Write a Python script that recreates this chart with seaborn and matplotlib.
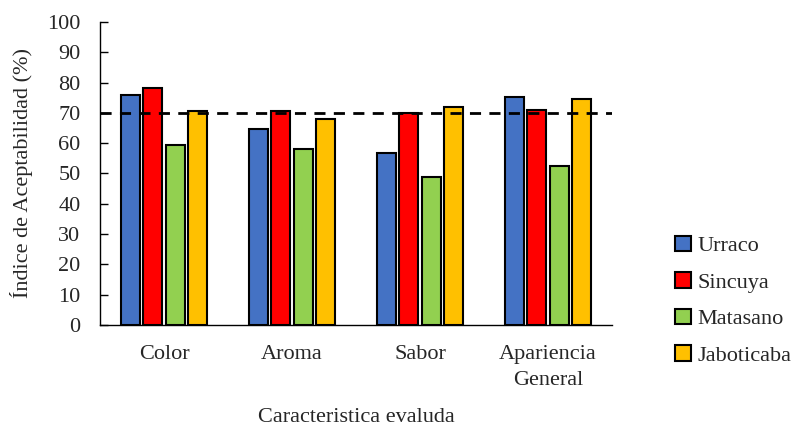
import seaborn as sns
import matplotlib.pyplot as plt
import pandas as pd

categories = ['Color', 'Aroma', 'Sabor', 'Apariencia\nGeneral']
varieties = ['Urraco', 'Sincuya', 'Matasano', 'Jaboticaba']
urraco = [75.9, 64.7, 56.7, 75.2]
sincuya = [78.1, 70.6, 70.0, 71.0]
matasano = [59.4, 58.0, 48.8, 52.6]
jaboticaba = [70.6, 68.1, 71.9, 74.6]
threshold = 70
colors = ['#4472C4', '#FF0000', '#92D050', '#FFC000']

rows = []
for v, vals in zip(varieties, [urraco, sincuya, matasano, jaboticaba]):
    for c, val in zip(categories, vals):
        rows.append({'cat': c, 'var': v, 'val': val})
df = pd.DataFrame(rows)

sns.set_style('white')
plt.rcParams['font.family'] = ['Liberation Serif', 'DejaVu Serif']

fig = plt.figure(figsize=(7.96, 4.28), dpi=100)
ax = fig.add_axes([0.1256, 0.2407, 0.6434, 0.708])

sns.barplot(data=df, x='cat', y='val', hue='var', order=categories,
            hue_order=varieties, palette=colors, saturation=1, width=0.7, gap=0.15,
            edgecolor='black', linewidth=1.5, ax=ax, legend=False)

ax.axhline(threshold, color='black', linestyle=(0, (4, 3)), linewidth=2, zorder=5)

ax.set_ylim(0, 100)
ax.set_xlim(-0.5, 3.5)
ax.set_yticks(range(0, 101, 10))
ax.tick_params(axis='y', left=True, direction='in', length=6, width=1,
               labelsize=16, color='black', pad=14)
ax.tick_params(axis='x', bottom=False, labelsize=16, pad=11)
for lab in ax.get_xticklabels():
    lab.set_linespacing(1.5)
sns.despine(ax=ax)
for s in ['left', 'bottom']:
    ax.spines[s].set_color('black')
    ax.spines[s].set_linewidth(1)
ax.set_ylabel('Índice de Aceptabilidad (%)', fontsize=16, labelpad=10)
ax.set_xlabel('Caracteristica evaluda', fontsize=16, labelpad=13)

handles = [plt.Rectangle((0, 0), 1, 1, facecolor=c, edgecolor='black', linewidth=1.5)
           for c in colors]
fig.legend(handles, varieties, loc='center left', bbox_to_anchor=(0.848, 0.297),
           frameon=False, fontsize=16, handlelength=0.7, handleheight=0.7,
           handletextpad=0.3, labelspacing=0.72, borderpad=0, borderaxespad=0)

fig.savefig('out.png', dpi=100)
